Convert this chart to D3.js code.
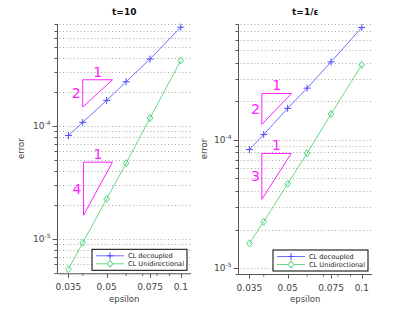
<html>
<head>
<meta charset="utf-8">
<script src="https://d3js.org/d3.v7.min.js"></script>
<style>
body { margin: 0; background: white; }
svg { font-family: "DejaVu Sans", sans-serif; }
.grid line { stroke: #aaa; stroke-dasharray: 1,2.5; }
.axis text { fill: #444; }
</style>
</head>
<body>
<svg width="412" height="310"></svg>
<script>
// data
var epsilon = [0.035, 0.04, 0.05, 0.06, 0.075, 0.1];
var xTicks = [0.035, 0.05, 0.075, 0.1];
var xTickLabels = ["0.035", "0.05", "0.075", "0.1"];

var leftDecoupled = [8.26e-5, 1.08e-4, 1.69e-4, 2.47e-4, 3.92e-4, 7.5e-4];
var leftUnidir = [5.43e-6, 9.3e-6, 2.27e-5, 4.7e-5, 1.18e-4, 3.81e-4];
var rightDecoupled = [8.4e-5, 1.10e-4, 1.76e-4, 2.53e-4, 4.05e-4, 7.52e-4];
var rightUnidir = [1.56e-5, 2.30e-5, 4.54e-5, 7.87e-5, 1.59e-4, 3.84e-4];

var seriesNames = ["CL decoupled", "CL Unidirectional"];

// slope triangles: [x0, x1, yTop, slope]
var leftSlopes = [[0.04, 0.0528, 2.57e-4, 2], [0.0403, 0.0528, 4.8e-5, 4]];
var rightSlopes = [[0.0393, 0.0519, 2.30e-4, 2], [0.0393, 0.0517, 7.83e-5, 3]];

var blue = "#4b4bff", green = "#3dcf6a", magenta = "#ff22ff";

var svg = d3.select("svg");

function isMajor(d) { return Math.abs(Math.log10(d) - Math.round(Math.log10(d))) < 1e-6; }

function drawPanel(opt) {
    var x = d3.scaleLog().domain([0.0316, 0.11]).range([opt.left, opt.right]);
    var y = d3.scaleLog().domain(opt.ydomain).range([opt.bottom, opt.top]);
    var g = svg.append("g");

    // horizontal dotted grid at every log tick
    var yt = y.ticks().filter(function(d) { return d >= opt.ydomain[0]*0.999 && d <= opt.ydomain[1]*1.001; });
    g.append("g").attr("class", "grid")
        .selectAll("line").data(yt).enter().append("line")
        .attr("x1", opt.left + 2).attr("x2", opt.right)
        .attr("y1", function(d) { return Math.round(y(d)) + 0.5; })
        .attr("y2", function(d) { return Math.round(y(d)) + 0.5; });

    // y axis
    var ya = g.append("g").attr("class", "axis")
        .attr("transform", "translate(" + opt.left + ",0)");
    ya.append("line").attr("y1", opt.top).attr("y2", opt.bottom).attr("stroke", "#555");
    ya.selectAll(".tk").data(yt).enter().append("line")
        .attr("x1", 0)
        .attr("x2", function(d) { return isMajor(d) ? -5 : -3; })
        .attr("y1", function(d) { return Math.round(y(d)) + 0.5; })
        .attr("y2", function(d) { return Math.round(y(d)) + 0.5; })
        .attr("stroke", "#555");
    yt.filter(isMajor).forEach(function(d) {
        var t = ya.append("text").attr("x", -7).attr("y", y(d) + 3)
            .attr("text-anchor", "end").attr("font-size", 9);
        t.append("tspan").text("10");
        t.append("tspan").attr("dy", -4).attr("font-size", 6).text(Math.round(Math.log10(d)));
    });
    g.append("text")
        .attr("transform", "translate(" + opt.ylabelX + "," + ((opt.top + opt.bottom) / 2) + ") rotate(-90)")
        .attr("text-anchor", "middle").attr("font-size", 8.5).attr("fill", "#444").text("error");

    // x axis
    var xa = g.append("g").attr("class", "axis")
        .attr("transform", "translate(0," + (opt.bottom + 0.5) + ")");
    xa.append("line").attr("x1", opt.left).attr("x2", opt.right).attr("stroke", "#555");
    var minor = [0.04, 0.06, 0.07, 0.08, 0.09];
    xa.selectAll(".mn").data(minor).enter().append("line")
        .attr("x1", function(d) { return x(d); }).attr("x2", function(d) { return x(d); })
        .attr("y1", 0).attr("y2", 2).attr("stroke", "#555");
    xa.selectAll(".tk").data(xTicks).enter().append("line")
        .attr("x1", function(d) { return Math.round(x(d)) + 0.5; })
        .attr("x2", function(d) { return Math.round(x(d)) + 0.5; })
        .attr("y1", 0).attr("y2", 4).attr("stroke", "#555");
    xa.selectAll("text").data(xTicks).enter().append("text")
        .attr("x", function(d) { return x(d); }).attr("y", 16)
        .attr("text-anchor", "middle").attr("font-size", 9)
        .text(function(d, i) { return xTickLabels[i]; });
    g.append("text").attr("x", (opt.left + opt.right) / 2).attr("y", 302)
        .attr("text-anchor", "middle").attr("font-size", 8.5).attr("fill", "#444").text("epsilon");

    // title
    g.append("text").attr("x", (opt.left + opt.right) / 2).attr("y", 15)
        .attr("text-anchor", "middle").attr("font-size", 9).attr("font-weight", "bold")
        .attr("fill", "#111").text(opt.title);

    // series
    var line = d3.line().x(function(d, i) { return x(epsilon[i]); }).y(function(d) { return y(d); });
    g.append("path").datum(opt.s1).attr("d", line).attr("fill", "none").attr("stroke", blue).attr("stroke-width", 0.8);
    g.append("path").datum(opt.s2).attr("d", line).attr("fill", "none").attr("stroke", green).attr("stroke-width", 0.8);
    g.selectAll(".plus").data(opt.s1).enter().append("path")
        .attr("transform", function(d, i) { return "translate(" + x(epsilon[i]) + "," + y(d) + ")"; })
        .attr("d", "M-3.5,0H3.5M0,-3.5V3.5").attr("stroke", blue).attr("stroke-width", 1);
    g.selectAll(".dia").data(opt.s2).enter().append("path")
        .attr("transform", function(d, i) { return "translate(" + x(epsilon[i]) + "," + y(d) + ")"; })
        .attr("d", "M0,-3.5L2.8,0L0,3.5L-2.8,0Z").attr("fill", "none").attr("stroke", green).attr("stroke-width", 0.9);

    // slope triangles
    opt.slopes.forEach(function(s) {
        var x0 = x(s[0]), x1 = x(s[1]), yt0 = y(s[2]);
        var yb = y(s[2] / Math.pow(s[1] / s[0], s[3]));
        g.append("path").attr("d", "M" + x0 + "," + yt0 + "L" + x1 + "," + yt0 + "L" + x0 + "," + yb + "Z")
            .attr("fill", "none").attr("stroke", magenta).attr("stroke-width", 1);
        g.append("text").attr("x", (x0 + x1) / 2).attr("y", yt0 - 3)
            .attr("text-anchor", "middle").attr("font-size", 14).attr("fill", magenta).text("1");
        g.append("text").attr("x", x0 - 2).attr("y", (yt0 + yb) / 2 + 5)
            .attr("text-anchor", "end").attr("font-size", 14).attr("fill", magenta).text(s[3]);
    });

    // legend
    var lw = 95, lh = 21;
    var lx = opt.right - 4 - lw, ly = opt.bottom - 3 - lh;
    var lg = g.append("g").attr("transform", "translate(" + lx + "," + ly + ")");
    lg.append("rect").attr("width", lw).attr("height", lh).attr("fill", "white").attr("stroke", "black").attr("stroke-width", 1);
    [blue, green].forEach(function(c, i) {
        var yy = 6.5 + i * 8;
        lg.append("line").attr("x1", 4).attr("x2", 32).attr("y1", yy).attr("y2", yy).attr("stroke", c).attr("stroke-width", 0.8);
        if (i == 0) {
            lg.append("path").attr("transform", "translate(18," + yy + ")").attr("d", "M-3.5,0H3.5M0,-3.5V3.5").attr("stroke", c);
        } else {
            lg.append("path").attr("transform", "translate(18," + yy + ")").attr("d", "M0,-3.5L2.8,0L0,3.5L-2.8,0Z").attr("fill", "white").attr("stroke", c);
        }
        lg.append("text").attr("x", 36).attr("y", yy + 2.5).attr("font-size", 6.6).attr("fill", "#222").text(seriesNames[i]);
    });
}

drawPanel({left: 57.5, right: 191, top: 24, bottom: 273.3, ydomain: [5e-6, 8e-4],
    title: "t=10", ylabelX: 24, s1: leftDecoupled, s2: leftUnidir, slopes: leftSlopes});
drawPanel({left: 238.5, right: 372, top: 24, bottom: 274, ydomain: [9e-6, 8e-4],
    title: "t=1/\u03b5", ylabelX: 207, s1: rightDecoupled, s2: rightUnidir, slopes: rightSlopes});
</script>
</body>
</html>
